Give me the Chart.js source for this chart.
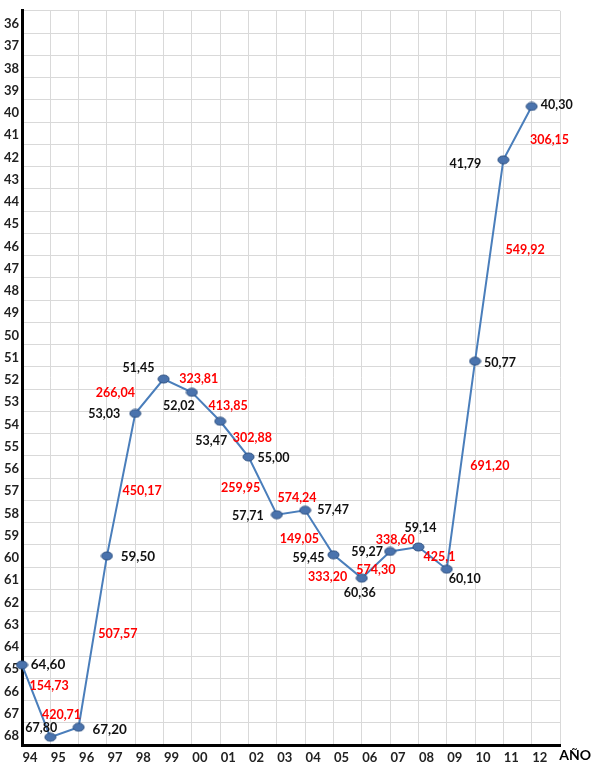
<!DOCTYPE html>
<html>
<head>
<meta charset="utf-8">
<script src="https://cdn.jsdelivr.net/npm/chart.js@4/dist/chart.umd.min.js"></script>
<style>
  html, body { margin: 0; padding: 0; background: #fff; }
  #wrap { width: 591px; height: 762px; position: relative; }
</style>
</head>
<body>
<div id="wrap"><canvas id="chart"></canvas></div>
<script>
const years = ["94", "95", "96", "97", "98", "99", "00", "01", "02", "03",
               "04", "05", "06", "07", "08", "09", "10", "11", "12"];

// where each point sits on the axis
const values = [64.4, 67.65, 67.2, 59.5, 53.1, 51.55, 52.15, 53.45, 55.05, 57.65,
                57.45, 59.45, 60.5, 59.3, 59.1, 60.1, 50.75, 41.7, 39.3];

// black labels written beside each point
const pointLabels = ["64,60", "67,80", "67,20", "59,50", "53,03", "51,45", "52,02", "53,47", "55,00", "57,71",
                     "57,47", "59,45", "60,36", "59,27", "59,14", "60,10", "50,77", "41,79", "40,30"];

// red labels written along each segment
const segmentLabels = ["154,73", "420,71", "507,57", "450,17", "266,04", "323,81", "413,85", "302,88", "259,95",
                       "574,24", "149,05", "333,20", "574,30", "338,60", "425,1", "691,20", "549,92", "306,15"];

// label placement (pixels from point / segment middle)
const pointOffsets = [[26, 0], [-9, -9], [31, 2], [31, 1], [-31, 0], [-25, -11], [-13, 14], [-9, 20], [25, 1], [-29, 1],
                      [28, 0], [-25, 3], [-2, 15], [-23, 1], [2, -19], [18, 10], [25, 2], [-38, 4], [25, -1]];
const segmentOffsets = [[13, -15], [-3, -17], [25, -8], [21, 6], [-34, -3], [21, -7], [22, -1], [18, -1], [-22, 2],
                        [6, -15], [-20, 6], [-20, 11], [0, 5], [-9, -9], [7, -1], [29, 1], [36, -11], [32, 7]];
const bigLabels = [0, 2, 3];

// ellipse marker
const marker = document.createElement("canvas");
marker.width = 13;
marker.height = 10;
{
  const m = marker.getContext("2d");
  m.beginPath();
  m.ellipse(6.5, 5, 5.5, 4, 0, 0, Math.PI * 2);
  m.fillStyle = "#4a73ad";
  m.fill();
  m.lineWidth = 1;
  m.strokeStyle = "#2c4f80";
  m.stroke();
}

const labelPlugin = {
  id: "labels",
  afterDatasetsDraw(chart) {
    const ctx = chart.ctx;
    const pts = chart.getDatasetMeta(0).data;
    ctx.save();
    ctx.textAlign = "center";
    ctx.textBaseline = "middle";

    ctx.fillStyle = "#ff0000";
    ctx.font = "bold 12.5px Lato";
    segmentLabels.forEach((t, i) => {
      const a = pts[i], b = pts[i + 1];
      ctx.fillText(t, (a.x + b.x) / 2 + segmentOffsets[i][0], (a.y + b.y) / 2 + segmentOffsets[i][1]);
    });

    ctx.fillStyle = "#111";
    pointLabels.forEach((t, i) => {
      ctx.font = bigLabels.includes(i) ? "bold 13.5px Lato" : "bold 12.5px Lato";
      ctx.fillText(t, pts[i].x + pointOffsets[i][0], pts[i].y + pointOffsets[i][1]);
    });

    ctx.font = "bold 14px Lato";
    ctx.fillStyle = "#000";
    ctx.textAlign = "right";
    ctx.fillText("AÑO", 591, chart.chartArea.bottom + 10);
    ctx.restore();
  }
};

new Chart(document.getElementById("chart"), {
  type: "line",
  data: {
    datasets: [{
      data: values.map((v, i) => ({ x: i, y: v })),
      borderColor: "#4a7ebb",
      borderWidth: 2,
      tension: 0,
      pointStyle: marker,
      clip: false
    }]
  },
  options: {
    responsive: true,
    maintainAspectRatio: false,
    animation: false,
    layout: { padding: { top: 2.5, right: 31, left: 0, bottom: 0 } },
    plugins: { legend: { display: false }, tooltip: { enabled: false } },
    scales: {
      x: {
        type: "linear",
        min: 0,
        max: 19,
        afterFit: s => { s.height = 17; },
        grid: { color: "#d9d9d9", drawTicks: false },
        border: { color: "#000", width: 3 },
        ticks: {
          stepSize: 1,
          autoSkip: false,
          maxRotation: 0,
          labelOffset: 8,
          padding: 5,
          color: "#222",
          font: { family: "Lato", weight: "bold", size: 13 },
          callback: v => years[v] ?? ""
        }
      },
      y: {
        type: "linear",
        reverse: true,
        min: 35,
        max: 68,
        afterFit: s => { s.width = 22; },
        grid: { color: "#d9d9d9", drawTicks: false },
        border: { color: "#000", width: 3 },
        ticks: {
          stepSize: 1,
          autoSkip: false,
          labelOffset: -9,
          padding: 3,
          color: "#222",
          font: { family: "Lato", weight: "bold", size: 13 },
          callback: v => (v === 35 ? "" : v)
        }
      }
    }
  },
  plugins: [labelPlugin]
});
</script>
</body>
</html>
